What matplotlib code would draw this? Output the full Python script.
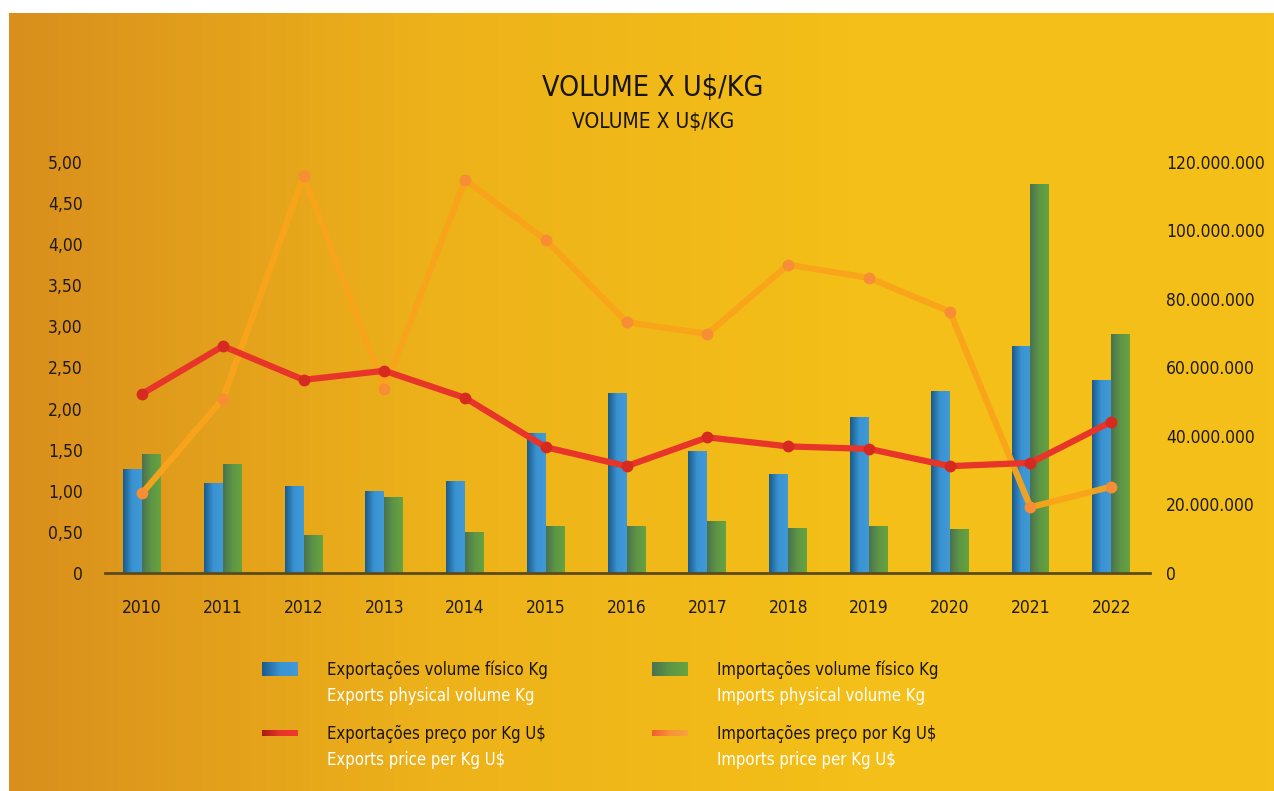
import numpy as np
import matplotlib
matplotlib.use("Agg")
import matplotlib.pyplot as plt
from matplotlib.colors import LinearSegmentedColormap
from matplotlib.ticker import FuncFormatter
from matplotlib import font_manager

# ---------------- data ----------------
years = ['2010', '2011', '2012', '2013', '2014', '2015', '2016',
         '2017', '2018', '2019', '2020', '2021', '2022']
export_volume_kg = [30.4e6, 26.3e6, 25.4e6, 23.9e6, 26.9e6, 40.9e6, 52.6e6,
                    35.6e6, 28.9e6, 45.5e6, 53.1e6, 66.3e6, 56.4e6]
import_volume_kg = [34.7e6, 31.8e6, 11.1e6, 22.2e6, 12.0e6, 13.7e6, 13.7e6,
                    15.2e6, 13.1e6, 13.7e6, 12.8e6, 113.6e6, 69.8e6]
export_price_usd = [2.18, 2.76, 2.35, 2.46, 2.13, 1.53, 1.30,
                    1.65, 1.54, 1.51, 1.30, 1.34, 1.84]
import_price_usd = [0.97, 2.12, 4.83, 2.24, 4.78, 4.05, 3.05,
                    2.91, 3.75, 3.59, 3.18, 0.80, 1.05]
left_ticks = [0, 0.5, 1.0, 1.5, 2.0, 2.5, 3.0, 3.5, 4.0, 4.5, 5.0]
right_ticks = [0, 20e6, 40e6, 60e6, 80e6, 100e6, 120e6]

title = 'VOLUME X U$/KG'
subtitle = 'VOLUME X U$/KG'
legend_pt = ['Exportações volume físico Kg', 'Importações volume físico Kg',
             'Exportações preço por Kg U$', 'Importações preço por Kg U$']
legend_en = ['Exports physical volume Kg', 'Imports physical volume Kg',
             'Exports price per Kg U$', 'Imports price per Kg U$']

# ---------------- fonts ----------------
avail = {f.name for f in font_manager.fontManager.ttflist}
fam = [f for f in ['Liberation Sans Narrow', 'DejaVu Sans'] if f in avail]
plt.rcParams['font.family'] = fam
if 'Liberation Sans Narrow' not in avail:
    plt.rcParams['font.stretch'] = 'condensed'

W, H = 1274, 791
fig = plt.figure(figsize=(W / 100, H / 100), dpi=100)
fig.patch.set_facecolor('white')

# background gradient
bg = fig.add_axes([9 / W, 0, 1 - 9 / W, 1 - 13 / H], zorder=-10)
bg_cmap = LinearSegmentedColormap.from_list('bg', ['#D98F1D', '#EDB21A', '#F4BF18', '#F5C018'])
bg.imshow(np.linspace(0, 1, 256)[None, :], aspect='auto', cmap=bg_cmap,
          extent=[0, 1, 0, 1])
bg.set_axis_off()

# main axes (bars, right scale)
ax = fig.add_axes([105 / W, 1 - 573 / H, (1150 - 105) / W, (573 - 162) / H])
ax.patch.set_alpha(0)
ax2 = ax.twinx()
ax2.patch.set_alpha(0)

x = np.arange(len(years))
bw = 0.235
blue_cmap = LinearSegmentedColormap.from_list('b', ['#1A5C8C', '#3A93D2', '#4199D6'])
green_cmap = LinearSegmentedColormap.from_list('g', ['#4A7350', '#5E9545', '#67A33E'])

def gradient_bars(axis, xs, heights, cmap, color):
    bars = axis.bar(xs, heights, width=bw, color=color, zorder=2, linewidth=0)
    grad = np.linspace(0, 1, 64)[None, :]
    for b in bars:
        x0, y0 = b.get_x(), b.get_y()
        im = axis.imshow(grad, aspect='auto', cmap=cmap,
                         extent=[x0, x0 + b.get_width(), y0, y0 + b.get_height()],
                         zorder=2.1)
        im.set_clip_path(b)
    return bars

gradient_bars(ax, x - bw / 2, export_volume_kg, blue_cmap, '#3A93D2')
gradient_bars(ax, x + bw / 2, import_volume_kg, green_cmap, '#5E9545')

ax.set_xlim(-0.46, 12.48)
ax.set_ylim(0, 120e6)
ax2.set_ylim(0, 5)

# lines (left scale)
ax2.plot(x, import_price_usd, color='#F9A41B', lw=4.5, solid_capstyle='round',
         zorder=3, alpha=0.95)
ax2.plot(x, import_price_usd, 'o', color='#F78E35', ms=7.5, zorder=3.1)
ax2.plot(x, export_price_usd, color='#E8352A', lw=4.5, solid_capstyle='round', zorder=4)
ax2.plot(x, export_price_usd, 'o', color='#D62A20', ms=7.5, zorder=4.1)

# axes styling
for a in (ax, ax2):
    for s in a.spines.values():
        s.set_visible(False)
ax.axhline(0, color='#5B4A1C', lw=2, zorder=5, clip_on=False)

ax.yaxis.tick_right()
ax.set_yticks(right_ticks)
ax.yaxis.set_major_formatter(FuncFormatter(lambda v, p: f'{v:,.0f}'.replace(',', '.')))
ax.tick_params(axis='y', length=0, pad=11.5, labelsize=12.5, labelcolor='#1E1A12')

ax2.yaxis.tick_left()
ax2.set_yticks(left_ticks)
ax2.yaxis.set_major_formatter(FuncFormatter(lambda v, p: '0' if v == 0 else f'{v:.2f}'.replace('.', ',')))
ax2.tick_params(axis='y', length=0, pad=16, labelsize=12.5, labelcolor='#1E1A12')

ax.set_xticks(x)
ax.set_xticklabels(years)
ax.tick_params(axis='x', length=0, pad=19, labelsize=12.5, labelcolor='#1E1A12')

# titles
fig.text(653 / W, 1 - 88 / H, title, ha='center', va='center', fontsize=20.5, color='#1A150C')
fig.text(653 / W, 1 - 122 / H, subtitle, ha='center', va='center', fontsize=15, color='#1A150C')

# legend
def swatch_rect(x0, y0, w, h, cmap):
    la = fig.add_axes([x0 / W, 1 - (y0 + h) / H, w / W, h / H])
    la.imshow(np.linspace(0, 1, 64)[None, :], aspect='auto', cmap=cmap, extent=[0, 1, 0, 1])
    la.set_axis_off()

red_cmap = LinearSegmentedColormap.from_list('r', ['#A61E16', '#E8352A', '#EE3A2C'])
orange_cmap = LinearSegmentedColormap.from_list('o', ['#F25E32', '#F7923A', '#F8A23A'])

col_x = [262, 652]
row_y = [662, 726]
swatches = [(blue_cmap, 14), (green_cmap, 14), (red_cmap, 6), (orange_cmap, 6)]
for i in range(4):
    cx = col_x[i % 2]
    ry = row_y[i // 2]
    cmap, h = swatches[i]
    yc = ry + 7
    swatch_rect(cx, yc - h / 2, 36, h, cmap)
    fig.text((cx + 65) / W, 1 - (ry + 8) / H, legend_pt[i], ha='left', va='center',
             fontsize=12, color='#1A150C')
    fig.text((cx + 65) / W, 1 - (ry + 34) / H, legend_en[i], ha='left', va='center',
             fontsize=12, color='white')

fig.savefig('out.png', dpi=100, facecolor=fig.get_facecolor())
